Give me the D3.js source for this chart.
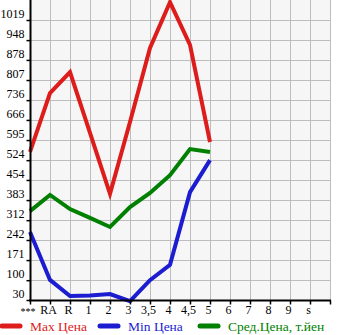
<!DOCTYPE html>
<html>
<head>
<meta charset="utf-8">
<script src="https://cdn.jsdelivr.net/npm/d3@7"></script>
<style>
body { margin: 0; background: #fff; }
#chart text { font-family: "Liberation Serif", "DejaVu Serif", serif; }
</style>
</head>
<body>
<div id="chart"></div>
<script>
var w = 345, h = 335;

var categories = ["***", "RA", "R", "1", "2", "3", "3,5", "4", "4,5", "5", "6", "7", "8", "9", "s"];
var yTicks = [30, 100, 171, 242, 312, 383, 454, 524, 595, 666, 736, 807, 878, 948, 1019];

var maxPrice = [553, 761, 835, 620, 405, 659, 920, 1082, 931, 588];
var minPrice = [270, 101, 44, 46, 51, 26, 100, 154, 411, 524];
var avgPrice = [344, 401, 351, 320, 288, 358, 408, 471, 563, 553];

var seriesNames = ["Max Цена", "Min Цена", "Сред.Цена, т.йен"];
var colors = ["#dd1c1c", "#1c1cd0", "#008000"];

var svg = d3.select("#chart").append("svg").attr("width", w).attr("height", h);

/* plot box: x 30..330, y 0..300 */
var xScale = d3.scaleLinear().domain([0, categories.length]).range([30, 330]);
var yScale = d3.scaleLinear().domain([30, 1019]).range([300, 20]);

svg.append("rect")
	.attr("x", 30).attr("y", 0)
	.attr("width", 300).attr("height", 300)
	.attr("fill", "#f6f6f6");

/* grid */
svg.append("g").selectAll("line").data(d3.range(1, categories.length + 1)).enter()
	.append("line")
	.attr("x1", function(d){ return xScale(d) + 0.5; })
	.attr("x2", function(d){ return xScale(d) + 0.5; })
	.attr("y1", 0).attr("y2", 300)
	.attr("stroke", "#bdbdbd").attr("stroke-width", 1);

svg.append("g").selectAll("line").data(yTicks.slice(1)).enter()
	.append("line")
	.attr("x1", 30).attr("x2", 330)
	.attr("y1", function(d){ return Math.round(yScale(d)) + 0.5; })
	.attr("y2", function(d){ return Math.round(yScale(d)) + 0.5; })
	.attr("stroke", "#bdbdbd").attr("stroke-width", 1);

/* lines */
var line = d3.line()
	.x(function(d, i){ return xScale(i); })
	.y(function(d){ return yScale(d); });

[maxPrice, minPrice, avgPrice].forEach(function(s, k) {
	svg.append("path")
		.datum(s)
		.attr("d", line)
		.attr("fill", "none")
		.attr("stroke", colors[k])
		.attr("stroke-width", 4)
		.attr("stroke-linejoin", "miter");
});

/* axes */
var xAxis = d3.axisBottom(xScale)
	.tickValues(d3.range(0, categories.length + 1))
	.tickSize(4)
	.tickFormat(function(d){ return categories[d] || ""; });

var yAxis = d3.axisLeft(yScale)
	.tickValues(yTicks)
	.tickSize(4)
	.tickFormat(function(d){ return d; });

var gx = svg.append("g")
	.attr("transform", "translate(0,300.5)")
	.call(xAxis);
gx.select(".domain").attr("stroke", "#000").attr("stroke-width", 2).attr("d", "M29,0H331");
gx.selectAll(".tick line").attr("stroke", "#000").attr("stroke-width", 1.5);
gx.selectAll(".tick text")
	.attr("font-size", 12)
	.attr("fill", "#000")
	.attr("dx", -2)
	.attr("y", 5);
gx.selectAll(".tick text").filter(function(d){ return d === 0; })
	.attr("font-size", 10)
	.attr("text-anchor", "start")
	.attr("x", -10)
	.attr("dx", 0)
	.attr("dy", "0.9em");

var gy = svg.append("g")
	.attr("transform", "translate(30.5,0)")
	.call(yAxis);
gy.select(".domain").attr("stroke", "#000").attr("stroke-width", 2).attr("d", "M0,0V301");
gy.selectAll(".tick line").attr("stroke", "#000").attr("stroke-width", 1.5);
gy.selectAll(".tick text")
	.attr("font-size", 12)
	.attr("fill", "#000")
	.attr("x", -6)
	.attr("dy", "-0.02em")
	.attr("transform", "translate(0,-2)");

/* legend */
var legendX = [0, 98, 198];
var legend = svg.append("g").attr("transform", "translate(0,326)");
seriesNames.forEach(function(name, k) {
	legend.append("line")
		.attr("x1", legendX[k] + 2).attr("x2", legendX[k] + 20)
		.attr("y1", 0).attr("y2", 0)
		.attr("stroke", colors[k]).attr("stroke-width", 5)
		.attr("stroke-linecap", "round");
	legend.append("text")
		.attr("x", legendX[k] + 30)
		.attr("y", 4.5)
		.attr("font-size", 13.5)
		.attr("fill", colors[k])
		.text(name);
});
</script>
</body>
</html>
